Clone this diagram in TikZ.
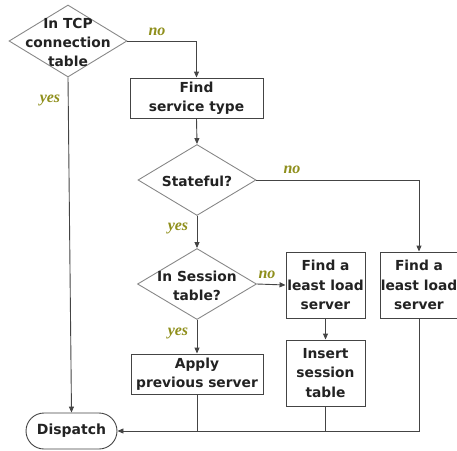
\documentclass[tikz,border=0pt]{standalone}
\usepackage{fontspec}
\setmainfont{DejaVu Sans}
\newfontfamily\labfont{Liberation Serif}
\usetikzlibrary{shapes.geometric,arrows.meta}
\definecolor{lineC}{HTML}{444444}
\definecolor{diaC}{HTML}{888888}
\definecolor{labC}{HTML}{8F8F1C}
\definecolor{txtC}{HTML}{222222}
\tikzset{
  proc/.style={draw=lineC, line width=0.9pt, rectangle, inner sep=0pt, align=center,
    font=\fontsize{13.8}{19.5}\selectfont\bfseries, text=txtC},
  decision/.style={draw=diaC, line width=0.9pt, diamond, inner sep=0pt},
  dtext/.style={align=center, font=\fontsize{13.8}{19}\selectfont\bfseries, text=txtC, inner sep=0pt},
  term/.style={draw=lineC, line width=0.9pt, rectangle, rounded corners=18pt, inner sep=0pt,
    font=\fontsize{14}{16}\selectfont\bfseries, text=txtC},
  flow/.style={draw=lineC, line width=0.9pt, -{Triangle[length=6pt,width=5pt]}},
  plain/.style={draw=lineC, line width=0.9pt},
  lab/.style={font=\labfont\fontsize{16}{16}\selectfont\bfseries\itshape, text=labC, inner sep=0pt}
}
\begin{document}
\begin{tikzpicture}[x=1pt,y=-1pt]
\useasboundingbox (0,0) rectangle (457,450);
% decisions
\node[decision, minimum width=118pt, minimum height=72pt] (tcp) at (68,41) {};
\node[dtext] (tcpt) at (68,42) {In TCP\\connection\\table};
\node[decision, minimum width=118pt, minimum height=71pt] (state) at (197,180) {};
\node[dtext] (statet) at (197,181) {Stateful?};
\node[decision, minimum width=119pt, minimum height=71pt] (sess) at (197,284) {};
\node[dtext] (sesst) at (197,286) {In Session\\table?};
% processes
\node[proc, minimum width=133pt, minimum height=40pt] (find) at (196.5,98) {Find\\service type};
\node[proc, minimum width=79pt, minimum height=66pt] (la) at (325.5,285) {Find a\\least load\\server};
\node[proc, minimum width=75pt, minimum height=66pt] (lb) at (419,285) {Find a\\least load\\server};
\node[proc, minimum width=79pt, minimum height=66pt] (ins) at (325.5,373) {Insert\\session\\table};
\node[proc, minimum width=132pt, minimum height=40pt] (apply) at (197,374) {Apply\\previous server};
\node[term, minimum width=91pt, minimum height=36pt] (disp) at (71.5,431) {Dispatch};
% connectors
\draw[flow] (tcp.east) -| (find.north);
\draw[flow] (tcp.south) -- (disp.north);
\draw[flow] (find.south) -- (state.north);
\draw[flow] (state.east) -| (lb.north);
\draw[flow] (state.south) -- (sess.north);
\draw[flow] (sess.east) -- (la.west);
\draw[flow] (sess.south) -- (apply.north);
\draw[flow] (la.south) -- (ins.north);
\draw[flow] (lb.south) |- (disp.east);
\draw[plain] (apply.south) -- (apply.south |- disp.east);
\draw[plain] (ins.south) -- (ins.south |- disp.east);
% labels
\node[lab] (l1) at (157,32) {no};
\node[lab] (l2) at (292,170) {no};
\node[lab] (l3) at (267,275) {no};
\node[lab] (l4) at (50,100) {yes};
\node[lab] (l5) at (178,228) {yes};
\node[lab] (l6) at (178,333) {yes};
\end{tikzpicture}
\end{document}
